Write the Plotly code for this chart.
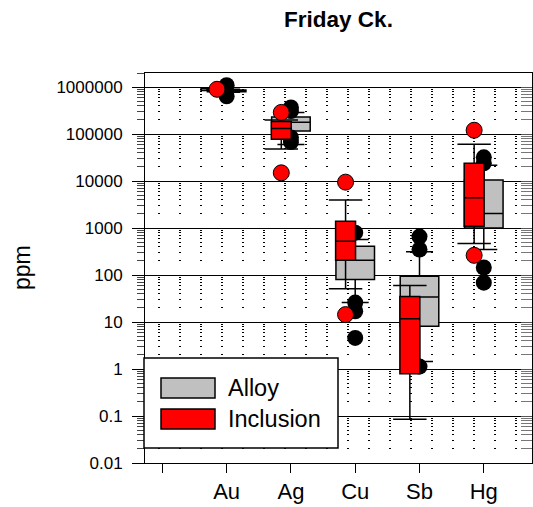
import math
import plotly.graph_objects as go

# ---------------- data ----------------
categories = ["Au", "Ag", "Cu", "Sb", "Hg"]
tick_labels = ["", "Au", "Ag", "Cu", "Sb", "Hg"]
y_tick_values = [0.01, 0.1, 1, 10, 100, 1000, 10000, 100000, 1000000]
y_tick_labels = ["0.01", "0.1", "1", "10", "100", "1000", "10000", "100000", "1000000"]

alloy_q1 = [800000, 117000, 80, 8.1, 1010]
alloy_median = [840000, 180000, 207, 34, 2050]
alloy_q3 = [870000, 232000, 411, 94, 10500]
alloy_lower = [780000, 60000, 26, 1.45, 350]
alloy_upper = [900000, 290000, 570, 313, 21700]

inclusion_q1 = [860000, 77800, 207, 0.79, 1100]
inclusion_median = [880000, 131000, 525, 11.7, 4430]
inclusion_q3 = [900000, 185000, 1400, 35, 23900]
inclusion_lower = [850000, 48000, 51, 0.085, 470]
inclusion_upper = [920000, 200000, 3950, 60, 60800]

alloy_outlier_cat = ["Au", "Au", "Ag", "Ag", "Ag", "Ag", "Cu", "Cu", "Cu", "Cu",
                     "Sb", "Sb", "Sb", "Hg", "Hg", "Hg", "Hg"]
alloy_outlier_val = [1100000, 640000, 370000, 310000, 85000, 68000, 800, 26, 17, 4.6,
                     660, 350, 1.13, 32000, 24000, 145, 69]

inclusion_outlier_cat = ["Au", "Ag", "Ag", "Cu", "Cu", "Hg", "Hg"]
inclusion_outlier_val = [900000, 290000, 15000, 9500, 14.4, 121000, 263]

# ---------------- styling ----------------
GRAY = "#c0c0c0"
RED = "#ff0000"
FONT = "Liberation Sans, Arial, sans-serif"
X_RANGE = [-0.27, 5.75]
Y_RANGE = [-2, math.log10(2e6)]
INC_OFFSET = -0.15
ALLOY_WIDTH = 0.6
INC_WIDTH = 0.31
INC_CAP_HALF = 0.26

pos = {c: i + 1 for i, c in enumerate(categories)}
alloy_x = [pos[c] for c in categories]
inc_x = [pos[c] + INC_OFFSET for c in categories]

fig = go.Figure()

# Alloy boxes (base subplot)
fig.add_trace(go.Box(
    x=alloy_x, q1=alloy_q1, median=alloy_median, q3=alloy_q3,
    lowerfence=alloy_lower, upperfence=alloy_upper,
    width=ALLOY_WIDTH, whiskerwidth=0.7, boxpoints=False,
    fillcolor=GRAY, line=dict(color="black", width=1.5),
    name="Alloy", hoverinfo="skip", xaxis="x", yaxis="y"))

fig.add_trace(go.Scatter(
    x=[pos[c] for c in alloy_outlier_cat], y=alloy_outlier_val,
    mode="markers", marker=dict(size=16, color="black"),
    name="Alloy outliers", hoverinfo="skip", xaxis="x", yaxis="y"))

# Inclusion boxes (overlay subplot, on top)
fig.add_trace(go.Box(
    x=inc_x, q1=inclusion_q1, median=inclusion_median, q3=inclusion_q3,
    lowerfence=inclusion_lower, upperfence=inclusion_upper,
    width=INC_WIDTH, whiskerwidth=0, boxpoints=False,
    fillcolor=RED, line=dict(color="black", width=1.5),
    name="Inclusion", hoverinfo="skip", xaxis="x2", yaxis="y2"))

cap_x, cap_y = [], []
for xc, lo, hi in zip(inc_x, inclusion_lower, inclusion_upper):
    for v in (lo, hi):
        cap_x += [xc - INC_CAP_HALF, xc + INC_CAP_HALF, None]
        cap_y += [v, v, None]
fig.add_trace(go.Scatter(
    x=cap_x, y=cap_y, mode="lines", line=dict(color="black", width=1.5),
    hoverinfo="skip", xaxis="x2", yaxis="y2"))

fig.add_trace(go.Scatter(
    x=[pos[c] + INC_OFFSET for c in inclusion_outlier_cat], y=inclusion_outlier_val,
    mode="markers", marker=dict(size=16, color=RED, line=dict(color="black", width=1)),
    name="Inclusion outliers", hoverinfo="skip", xaxis="x2", yaxis="y2"))

minor_vals = [k * 10 ** e for e in range(-2, 7) for k in range(2, 10)]

fig.update_layout(
    width=533, height=507,
    margin=dict(l=145, r=1, t=73, b=44),
    paper_bgcolor="white", plot_bgcolor="white",
    showlegend=False,
    font=dict(family=FONT, color="black"),
    title=dict(text="<b>Friday Ck.</b>", x=0.5, xref="paper", xanchor="center",
               y=1 - 19 / 507, yref="container", yanchor="middle",
               font=dict(size=22.5, family=FONT, color="black")),
    xaxis=dict(range=X_RANGE, tickmode="array", tickvals=list(range(6)), ticktext=tick_labels,
               ticks="outside", ticklen=9, tickwidth=1, tickcolor="black",
               showline=True, linecolor="black", linewidth=1, mirror=True,
               showgrid=False, zeroline=False, tickfont=dict(size=22)),
    yaxis=dict(type="log", range=Y_RANGE, tickmode="array",
               tickvals=y_tick_values, ticktext=y_tick_labels,
               ticks="outside", ticklen=12, tickwidth=1, tickcolor="black",
               showline=True, linecolor="black", linewidth=1, mirror=True,
               showgrid=True, gridcolor="black", gridwidth=1, zeroline=False,
               tickfont=dict(size=17), ticklabelstandoff=6,
               minor=dict(tickmode="array", tickvals=minor_vals, ticks="outside", ticklen=7,
                          tickwidth=1, tickcolor="#444444", showgrid=True, gridcolor="black",
                          gridwidth=1, griddash="0px,13px,2px,6px")),
    xaxis2=dict(overlaying="x", range=X_RANGE, visible=False),
    yaxis2=dict(overlaying="y", type="log", range=Y_RANGE, side="right",
                tickmode="array", tickvals=y_tick_values, showticklabels=False,
                ticks="inside", ticklen=11, tickwidth=1, tickcolor="#555555",
                showgrid=False, showline=False, zeroline=False,
                minor=dict(tickmode="array", tickvals=minor_vals, ticks="inside", ticklen=11,
                           tickwidth=1, tickcolor="#777777", showgrid=False)),
)

# y-axis title
fig.add_annotation(text="ppm", xref="paper", yref="paper", x=(22 - 145) / 387, y=0.5,
                   textangle=-90, showarrow=False, font=dict(size=23, family=FONT),
                   xanchor="center", yanchor="middle")

# Legend (manual)
def px_x(px):
    return (px - 145) / 387

def px_y(py):
    return (463 - py) / 390

fig.add_shape(type="rect", xref="paper", yref="paper",
              x0=px_x(144), x1=px_x(338), y0=px_y(448), y1=px_y(358),
              fillcolor="white", line=dict(color="black", width=1.5), layer="above")
for label, color, yc in (("Alloy", GRAY, 388), ("Inclusion", RED, 419)):
    fig.add_shape(type="rect", xref="paper", yref="paper",
                  x0=px_x(161), x1=px_x(215), y0=px_y(yc + 10), y1=px_y(yc - 10),
                  fillcolor=color, line=dict(color="black", width=1.5), layer="above")
    fig.add_annotation(text=label, xref="paper", yref="paper", x=px_x(226), y=px_y(yc),
                       xanchor="left", yanchor="middle", showarrow=False,
                       font=dict(size=23.5, family=FONT))

fig.write_html("out.html")
